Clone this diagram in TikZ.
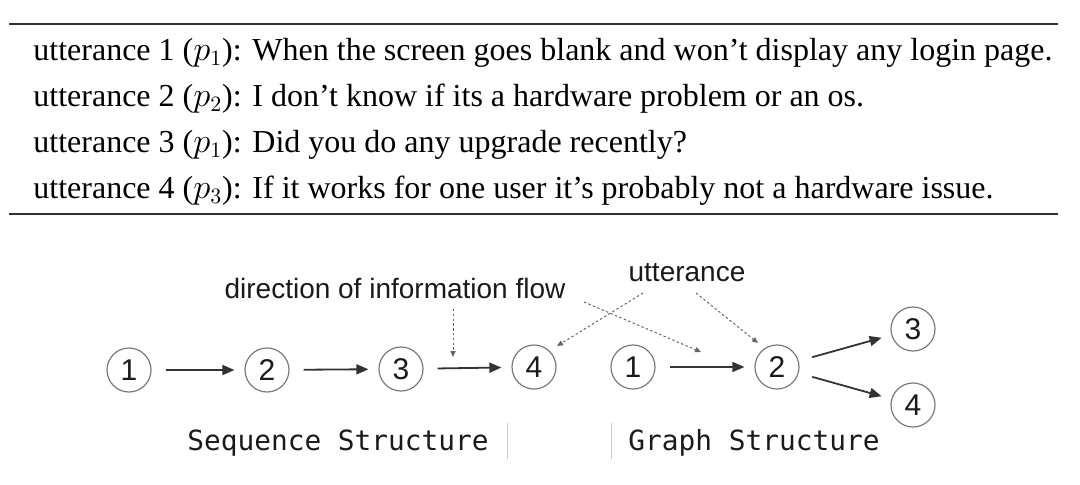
\documentclass[tikz,border=0pt]{standalone}
\usepackage{fontspec}
\setmainfont{Liberation Serif}
\newfontfamily\labelsans{Liberation Sans}
\newfontfamily\labelmono{DejaVu Sans Mono}
\usetikzlibrary{arrows.meta}
\definecolor{ink}{HTML}{1A1A1A}
\definecolor{arrowgray}{HTML}{333333}
\definecolor{circgray}{HTML}{7A7A7A}
\definecolor{dotgray}{HTML}{666666}
\definecolor{sepgray}{HTML}{CCCCCC}
\tikzset{
  rowtext/.style={anchor=base west, inner sep=0pt, font=\fontsize{16}{18}\selectfont, text=black},
  rulel/.style={line width=1pt, draw=ink!90},
  numnode/.style={circle, draw=circgray, line width=0.6pt, minimum size=22pt, inner sep=0pt, font=\labelsans\fontsize{15}{17}\selectfont, text=ink},
  flowarrow/.style={draw=arrowgray, line width=0.9pt, -{Triangle[length=6pt, width=5pt]}, shorten <=7pt, shorten >=5pt},
  dotarrow/.style={draw=dotgray, line width=0.5pt, dash pattern=on 1.2pt off 1.2pt, -{Triangle[length=3pt, width=2.6pt]}},
  tag/.style={font=\labelsans\fontsize{14}{16}\selectfont, text=ink, inner sep=0pt},
  structlabel/.style={anchor=base, inner sep=0pt, font=\labelmono\fontsize{13.9}{16}\selectfont, text=ink},
  sep/.style={draw=sepgray, line width=0.5pt}
}
\begin{document}
\begin{tikzpicture}[x=0.5pt, y=-0.5pt]
\useasboundingbox (0,0) rectangle (1080,484);
% table rules
\coordinate (tl) at (9,24);
\coordinate (tr) at (1058,24);
\coordinate (bl) at (9,214);
\coordinate (br) at (1058,214);
\draw[rulel] (tl) -- (tr);
\draw[rulel] (bl) -- (br);
% table rows
\node[rowtext] (r1) at (33,60) {utterance 1 ($p_1$): When the screen goes blank and won't display any login page.};
\node[rowtext] (r2) at (33,106) {utterance 2 ($p_2$): I don't know if its a hardware problem or an os.};
\node[rowtext] (r3) at (33,152) {utterance 3 ($p_1$): Did you do any upgrade recently?};
\node[rowtext] (r4) at (33,198) {utterance 4 ($p_3$): If it works for one user it's probably not a hardware issue.};
% sequence structure
\node[numnode] (s1) at (129,370) {1};
\node[numnode] (s2) at (267,370) {2};
\node[numnode] (s3) at (401,369) {3};
\node[numnode] (s4) at (534,367) {4};
\draw[flowarrow] (s1) -- (s2);
\draw[flowarrow] (s2) -- (s3);
\draw[flowarrow] (s3) -- (s4);
% graph structure
\node[numnode] (g1) at (633,367) {1};
\node[numnode] (g2) at (777,367) {2};
\node[numnode] (g3) at (913,329) {3};
\node[numnode] (g4) at (913,405) {4};
\draw[flowarrow] (g1) -- (g2);
\draw[flowarrow] (g2) -- (g3);
\draw[flowarrow] (g2) -- (g4);
% annotations
\node[tag] (dir) at (395,288) {direction of information flow};
\node[tag] (utt) at (687,273) {utterance};
\coordinate (d1s) at (453,309);
\coordinate (d1e) at (453,357);
\draw[dotarrow] (d1s) -- (d1e);
\coordinate (d2s) at (584,302);
\coordinate (d2e) at (701,352);
\draw[dotarrow] (d2s) -- (d2e);
\coordinate (u1s) at (643,293);
\coordinate (u1e) at (557,346);
\draw[dotarrow] (u1s) -- (u1e);
\coordinate (u2s) at (696,293);
\coordinate (u2e) at (758,343);
\draw[dotarrow] (u2s) -- (u2e);
% labels
\node[structlabel] (seq) at (338,450) {Sequence Structure};
\node[structlabel] (gra) at (754,450) {Graph Structure};
\coordinate (v1t) at (507,423);
\coordinate (v1b) at (507,459);
\coordinate (v2t) at (611,423);
\coordinate (v2b) at (611,459);
\draw[sep] (v1t) -- (v1b);
\draw[sep] (v2t) -- (v2b);
\end{tikzpicture}
\end{document}
